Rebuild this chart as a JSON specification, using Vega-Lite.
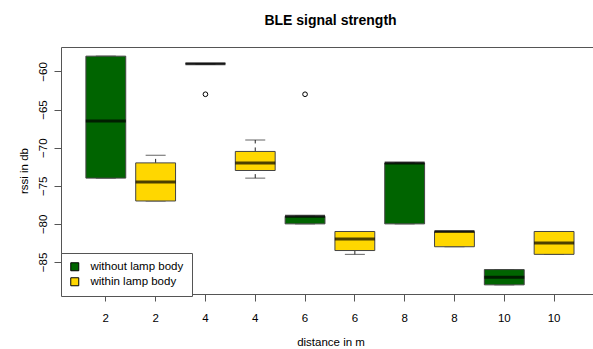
{
  "$schema": "https://vega.github.io/schema/vega-lite/v6.json",
  "width": 532,
  "height": 247,
  "autosize": {"type": "none"},
  "padding": {"left": 61, "top": 47, "right": 0, "bottom": 55},
  "background": "white",
  "title": {"text": "BLE signal strength", "fontSize": 14, "fontWeight": "bold", "font": "Liberation Sans", "anchor": "middle", "frame": "group", "baseline": "alphabetic", "offset": 8, "dx": 3.5, "color": "black"},
  "config": {"view": {"stroke": "#555", "strokeWidth": 1}, "font": "Liberation Sans"},
  "datasets": {
    "boxes": [
      {"id": "2-a", "distance": 2, "group": "without lamp body", "min": -74, "q1": -74, "median": -66.5, "q3": -58, "max": -58},
      {"id": "2-b", "distance": 2, "group": "within lamp body", "min": -77, "q1": -77, "median": -74.5, "q3": -72, "max": -71},
      {"id": "4-a", "distance": 4, "group": "without lamp body", "min": -59, "q1": -59, "median": -59, "q3": -59, "max": -59},
      {"id": "4-b", "distance": 4, "group": "within lamp body", "min": -74, "q1": -73, "median": -72, "q3": -70.5, "max": -69},
      {"id": "6-a", "distance": 6, "group": "without lamp body", "min": -80, "q1": -80, "median": -79, "q3": -79, "max": -79},
      {"id": "6-b", "distance": 6, "group": "within lamp body", "min": -84, "q1": -83.5, "median": -82, "q3": -81, "max": -81},
      {"id": "8-a", "distance": 8, "group": "without lamp body", "min": -80, "q1": -80, "median": -72, "q3": -72, "max": -72},
      {"id": "8-b", "distance": 8, "group": "within lamp body", "min": -83, "q1": -83, "median": -81, "q3": -81, "max": -81},
      {"id": "10-a", "distance": 10, "group": "without lamp body", "min": -88, "q1": -88, "median": -87, "q3": -86, "max": -86},
      {"id": "10-b", "distance": 10, "group": "within lamp body", "min": -84, "q1": -84, "median": -82.5, "q3": -81, "max": -81}
    ],
    "outliers": [
      {"id": "4-a", "group": "without lamp body", "rssi": -63},
      {"id": "6-a", "group": "without lamp body", "rssi": -63}
    ]
  },
  "encoding": {
    "x": {
      "field": "id", "type": "nominal",
      "scale": {"domain": ["2-a","2-b","4-a","4-b","6-a","6-b","8-a","8-b","10-a","10-b"], "paddingInner": 0, "paddingOuter": 0.3407, "align": 0.587},
      "axis": {"title": "distance in m", "labelExpr": "split(datum.label, '-')[0]", "labelAngle": 0, "bandPosition": 0.5, "domain": false, "grid": false, "tickSize": 7, "tickColor": "#555", "labelPadding": 11, "labelFontSize": 11.5, "labelColor": "black", "labelFont": "Liberation Sans", "titleFontSize": 11.5, "titleFontWeight": "normal", "titleColor": "black", "titleFont": "Liberation Sans", "titlePadding": 13, "titleX": 269.5}
    }
  },
  "layer": [
    {
      "data": {"name": "boxes"},
      "mark": {"type": "rule", "strokeDash": [4, 4], "color": "#222", "strokeWidth": 1},
      "encoding": {
        "y": {"field": "min", "type": "quantitative",
          "scale": {"domain": [-89.2, -56.8], "nice": false, "zero": false},
          "axis": {"title": "rssi in db", "values": [-85, -80, -75, -70, -65, -60], "labelAngle": -90, "labelAlign": "center", "labelBaseline": "alphabetic", "domain": false, "grid": false, "tickSize": 7, "tickColor": "#555", "labelPadding": 8, "labelFontSize": 11.5, "labelColor": "black", "labelFont": "Liberation Sans", "titleFontSize": 11.5, "titleFontWeight": "normal", "titleColor": "black", "titleFont": "Liberation Sans", "titlePadding": 8}},
        "y2": {"field": "q1"}
      }
    },
    {
      "data": {"name": "boxes"},
      "mark": {"type": "rule", "strokeDash": [4, 4], "color": "#222", "strokeWidth": 1},
      "encoding": {
        "y": {"field": "q3", "type": "quantitative"},
        "y2": {"field": "max"}
      }
    },
    {
      "data": {"name": "boxes"},
      "mark": {"type": "tick", "orient": "horizontal", "size": 20, "thickness": 1, "color": "#222"},
      "encoding": {"y": {"field": "min", "type": "quantitative"}}
    },
    {
      "data": {"name": "boxes"},
      "mark": {"type": "tick", "orient": "horizontal", "size": 20, "thickness": 1, "color": "#222"},
      "encoding": {"y": {"field": "max", "type": "quantitative"}}
    },
    {
      "data": {"name": "boxes"},
      "mark": {"type": "bar", "width": {"band": 0.8}, "stroke": "#444", "strokeWidth": 1, "opacity": 1},
      "encoding": {
        "y": {"field": "q1", "type": "quantitative"},
        "y2": {"field": "q3"},
        "fill": {"field": "group", "type": "nominal",
          "scale": {"domain": ["without lamp body", "within lamp body"], "range": ["#006400", "#FFD700"]},
          "legend": {"orient": "none", "legendX": 0, "legendY": 206, "title": null, "strokeColor": "#555", "fillColor": "white", "padding": 8, "symbolType": "square", "symbolSize": 64, "symbolStrokeColor": "black", "symbolStrokeWidth": 1, "symbolOpacity": 1, "labelFontSize": 11.5, "labelOffset": 10, "rowPadding": 2, "labelColor": "black", "labelFont": "Liberation Sans"}
        }
      }
    },
    {
      "data": {"name": "boxes"},
      "mark": {"type": "tick", "orient": "horizontal", "size": 40, "thickness": 3, "color": "black"},
      "encoding": {"y": {"field": "median", "type": "quantitative"}}
    },
    {
      "data": {"name": "outliers"},
      "mark": {"type": "point", "shape": "circle", "filled": false, "size": 22, "stroke": "black", "strokeWidth": 1, "opacity": 1},
      "encoding": {"y": {"field": "rssi", "type": "quantitative"}}
    }
  ]
}
